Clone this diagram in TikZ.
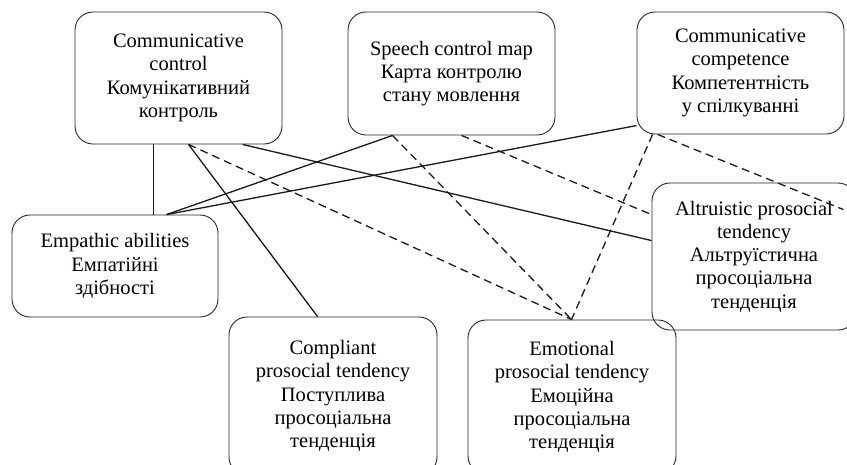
\documentclass[tikz,border=0pt]{standalone}
\usepackage{fontspec}
\setmainfont{Liberation Serif}
\begin{document}
\begin{tikzpicture}[x=1pt,y=-1pt,
  box/.style={draw=black!85, line width=0.9pt, rounded corners=18pt, align=center,
    font=\fontsize{20.5}{23.3}\selectfont, text=black, inner sep=0pt},
  link/.style={line width=1.3pt, draw=black!90},
  dlink/.style={link, dash pattern=on 8pt off 5pt}]
\useasboundingbox (0,0) rectangle (847,464);
\clip (0,0) rectangle (847,464);
\node[box, minimum width=207pt, minimum height=132pt] (CC) at (178.5,78)
  {Communicative\\control\\Комунікативний\\контроль};
\node[box, minimum width=207pt, minimum height=123pt] (SCM) at (451.5,73.5)
  {Speech control map\\Карта контролю\\стану мовлення};
\node[box, minimum width=207pt, minimum height=122pt] (CCO) at (740.5,73)
  {Communicative\\competence\\Компетентність\\у спілкуванні};
\node[box, minimum width=206pt, minimum height=102pt] (EA) at (115,266)
  {Empathic abilities\\Емпатійні\\здібності};
\node[box, minimum width=208pt, minimum height=158pt] (CP) at (333,396)
  {Compliant\\prosocial tendency\\Поступлива\\просоціальна\\тенденція};
\node[box, minimum width=208pt, minimum height=154pt] (EM) at (572,397)
  {Emotional\\prosocial tendency\\Емоційна\\просоціальна\\тенденція};
\node[box, minimum width=204pt, minimum height=147pt] (AL) at (754,256.5)
  {Altruistic prosocial\\tendency\\Альтруїстична\\просоціальна\\тенденція};
% connectors
\draw[link] ([xshift=79pt]CC.south west) -- ([xshift=142pt]EA.north west);
\draw[link] ([xshift=114pt]CC.south west) -- ([xshift=89pt]CP.north west);
\draw[dlink] ([xshift=114pt]CC.south west) -- ([xshift=104pt]EM.north west);
\draw[link] ([xshift=168pt]CC.south west) -- ([yshift=-58pt]AL.north west);
\draw[link] ([xshift=45pt]SCM.south west) -- ([xshift=155pt]EA.north west);
\draw[dlink] ([xshift=45pt]SCM.south west) -- ([xshift=104pt]EM.north west);
\draw[dlink] ([xshift=114pt]SCM.south west) -- ([yshift=-32pt]AL.north west);
\draw[link] ([yshift=-114pt]CCO.north west) -- ([xshift=155pt]EA.north west);
\draw[dlink] ([xshift=16pt]CCO.south west) -- ([xshift=104pt]EM.north west);
\draw[dlink] ([xshift=21pt]CCO.south west) -- ([xshift=-13pt,yshift=-27pt]AL.north east);
\end{tikzpicture}
\end{document}
